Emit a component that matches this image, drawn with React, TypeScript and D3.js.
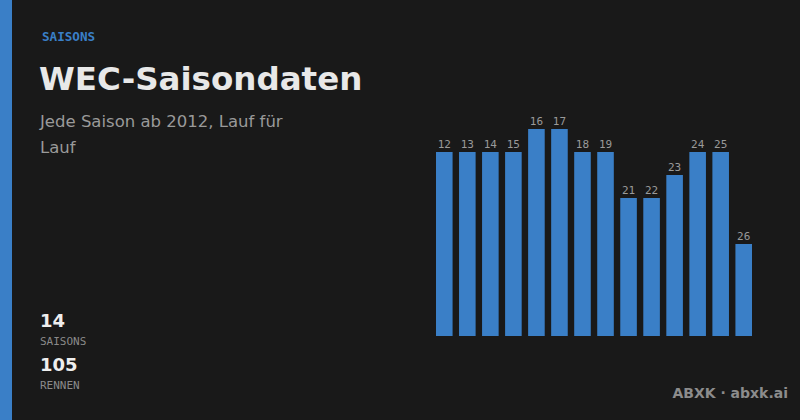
import * as d3 from 'd3';

const seasons = ['12', '13', '14', '15', '16', '17', '18', '19', '21', '22', '23', '24', '25', '26'];
const races = [8, 8, 8, 8, 9, 9, 8, 8, 6, 6, 7, 8, 8, 4];
const stats = [
  { value: '14', label: 'SAISONS' },
  { value: '105', label: 'RENNEN' },
];

const W = 800;
const H = 420;
const blue = '#3a7fc7';
const mono = '"DejaVu Sans Mono", monospace';
const sans = '"DejaVu Sans", sans-serif';

export default function App() {
  const x = d3
    .scaleBand<string>()
    .domain(seasons)
    .range([436, 752])
    .paddingInner(0.28)
    .paddingOuter(0);
  const y = d3
    .scaleLinear()
    .domain([0, d3.max(races) ?? 9])
    .range([336, 129]);

  return (
    <svg width={W} height={H} style={{ position: 'absolute', left: 0, top: 0 }}>
      <rect width={W} height={H} fill="#191919" />
      <rect width={12} height={H} fill={blue} />

      <text x={42} y={41} fill={blue} fontFamily={mono} fontWeight="bold" fontSize={12.6}>
        SAISONS
      </text>
      <text x={39} y={90} fill="#e8e8e8" fontFamily={sans} fontWeight="bold" fontSize={32.5}>
        WEC-Saisondaten
      </text>
      <text fill="#9a9a9a" fontFamily={sans} fontSize={16.5}>
        <tspan x={40} y={127}>Jede Saison ab 2012, Lauf für</tspan>
        <tspan x={40} y={153}>Lauf</tspan>
      </text>

      {stats.map((s, i) => (
        <g key={s.label} transform={`translate(40, ${i * 44})`}>
          <text y={327} fill="#eeeeee" fontFamily={sans} fontWeight="bold" fontSize={18}>
            {s.value}
          </text>
          <text y={345} fill="#8a8a8a" fontFamily={mono} fontSize={11}>
            {s.label}
          </text>
        </g>
      ))}

      <g>
        {seasons.map((s, i) => (
          <g key={s}>
            <rect
              x={x(s)}
              y={y(races[i])}
              width={x.bandwidth()}
              height={y(0) - y(races[i])}
              fill={blue}
            />
            <text
              x={(x(s) ?? 0) + x.bandwidth() / 2}
              y={y(races[i]) - 4}
              textAnchor="middle"
              fill="#9a9a9a"
              fontFamily={mono}
              fontSize={11}
            >
              {s}
            </text>
          </g>
        ))}
      </g>

      <text
        x={788}
        y={398}
        textAnchor="end"
        fill="#8c8c8c"
        fontFamily={sans}
        fontWeight="bold"
        fontSize={14}
      >
        ABXK · abxk.ai
      </text>
    </svg>
  );
}
